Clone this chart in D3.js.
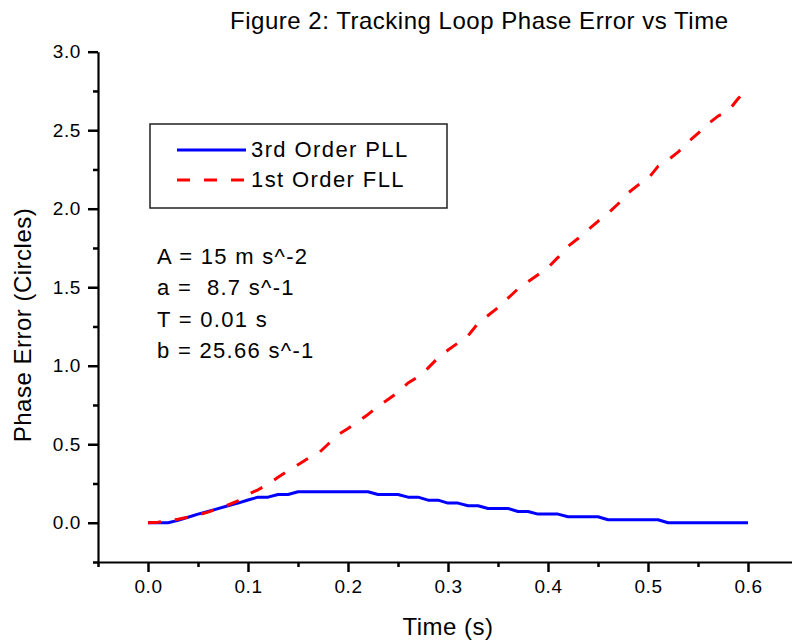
<!DOCTYPE html>
<html>
<head>
<meta charset="utf-8">
<script src="https://cdn.jsdelivr.net/npm/d3@7"></script>
<style>
  body { margin: 0; background: #fff; }
  text { font-family: Arial, "Liberation Sans", sans-serif; fill: #000; }
</style>
</head>
<body>
<div class="graph"></div>
<script>
// data (sample step 0.01 s)
var time = [0.00, 0.01, 0.02, 0.03, 0.04, 0.05, 0.06, 0.07, 0.08, 0.09,
            0.10, 0.11, 0.12, 0.13, 0.14, 0.15, 0.16, 0.17, 0.18, 0.19,
            0.20, 0.21, 0.22, 0.23, 0.24, 0.25, 0.26, 0.27, 0.28, 0.29,
            0.30, 0.31, 0.32, 0.33, 0.34, 0.35, 0.36, 0.37, 0.38, 0.39,
            0.40, 0.41, 0.42, 0.43, 0.44, 0.45, 0.46, 0.47, 0.48, 0.49,
            0.50, 0.51, 0.52, 0.53, 0.54, 0.55, 0.56, 0.57, 0.58, 0.59, 0.60];
var pll = [0, 0, 0, 0.015, 0.035, 0.055, 0.072, 0.09, 0.108, 0.125,
           0.145, 0.163, 0.163, 0.18, 0.18, 0.197, 0.197, 0.197, 0.197, 0.197,
           0.197, 0.197, 0.197, 0.18, 0.18, 0.18, 0.163, 0.163, 0.144, 0.144,
           0.125, 0.125, 0.108, 0.108, 0.091, 0.091, 0.091, 0.072, 0.072, 0.055,
           0.055, 0.055, 0.038, 0.038, 0.038, 0.038, 0.019, 0.019, 0.019, 0.019,
           0.019, 0.019, 0, 0, 0, 0, 0, 0, 0, 0, 0];
var fll = [0, 0.003, 0.012, 0.022, 0.035, 0.05, 0.068, 0.09, 0.113, 0.14,
           0.18, 0.21, 0.245, 0.29, 0.33, 0.37, 0.41, 0.44, 0.50, 0.56,
           0.60, 0.645, 0.69, 0.74, 0.785, 0.83, 0.89, 0.93, 0.985, 1.05,
           1.10, 1.145, 1.19, 1.27, 1.32, 1.37, 1.43, 1.49, 1.535, 1.58,
           1.625, 1.69, 1.76, 1.81, 1.865, 1.92, 1.97, 2.03, 2.10, 2.15,
           2.19, 2.27, 2.31, 2.36, 2.425, 2.48, 2.54, 2.59, 2.62, 2.70, 2.77];

var xTicks = [0.0, 0.1, 0.2, 0.3, 0.4, 0.5, 0.6];
var xMinor = [-0.05, 0.05, 0.15, 0.25, 0.35, 0.45, 0.55, 0.65];
var yTicks = [0.0, 0.5, 1.0, 1.5, 2.0, 2.5, 3.0];
var yMinor = [-0.25, 0.25, 0.75, 1.25, 1.75, 2.25, 2.75];

var title = "Figure 2: Tracking Loop Phase Error vs Time";
var seriesNames = ["3rd Order PLL", "1st Order FLL"];
var notes = ["A = 15 m s^-2", "a =  8.7 s^-1", "T = 0.01 s", "b = 25.66 s^-1"];

// size
var basewidth = 792;
var baseheight = 643;

var svg = d3.select('.graph')
    .append('svg')
    .attr('width', basewidth)
    .attr('height', baseheight)

var x = d3.scaleLinear().domain([-0.05, 0.65]).range([98, 798])
var y = d3.scaleLinear().domain([-0.25, 3.0]).range([562, 51.7])

// axes
var xAxis = svg.append('g')
    .attr('transform', 'translate(0,' + y(-0.25) + ')')
    .call(d3.axisBottom(x).tickValues(xTicks).tickSize(10).tickSizeOuter(0).tickPadding(8)
        .tickFormat(d3.format('.1f')))
xAxis.append('g')
    .call(d3.axisBottom(x).tickValues(xMinor).tickSize(5).tickSizeOuter(0).tickFormat(''))
    .select('.domain').remove()

var yAxis = svg.append('g')
    .attr('transform', 'translate(' + x(-0.05) + ',0)')
    .call(d3.axisLeft(y).tickValues(yTicks).tickSize(10).tickSizeOuter(0).tickPadding(7)
        .tickFormat(d3.format('.1f')))
yAxis.append('g')
    .call(d3.axisLeft(y).tickValues(yMinor).tickSize(5).tickSizeOuter(0).tickFormat(''))
    .select('.domain').remove()

svg.selectAll('.domain').attr('stroke', '#000').attr('stroke-width', 2.2)
svg.selectAll('.tick line').attr('stroke', '#000').attr('stroke-width', 2.5)
svg.selectAll('.tick text')
    .attr('font-size', null)
    .style('font-size', '19px')
    .style('letter-spacing', '0.6px')
    .attr('fill', '#000')

// lines
var line = d3.line()
    .x(function(d, i) { return x(time[i]) })
    .y(function(d) { return y(d) })

svg.append('path')
    .datum(pll)
    .attr('d', line)
    .attr('fill', 'none')
    .attr('stroke', '#0000ff')
    .attr('stroke-width', 3)
    .attr('stroke-linejoin', 'round')

svg.append('path')
    .datum(fll)
    .attr('d', line)
    .attr('fill', 'none')
    .attr('stroke', '#ff0000')
    .attr('stroke-width', 3)
    .attr('stroke-linejoin', 'round')
    .attr('stroke-dasharray', '13 14')

// title and axis titles
svg.append('text')
    .attr('x', 230)
    .attr('y', 29)
    .attr('textLength', 498)
    .attr('lengthAdjust', 'spacing')
    .style('font-size', '24px')
    .text(title)

svg.append('text')
    .attr('x', x(0.3))
    .attr('y', 635)
    .attr('text-anchor', 'middle')
    .style('font-size', '24px')
    .style('letter-spacing', '0.5px')
    .text('Time (s)')

svg.append('text')
    .attr('transform', 'translate(31,' + 325 + ') rotate(-90)')
    .attr('text-anchor', 'middle')
    .style('font-size', '24px')
    .style('letter-spacing', '0.5px')
    .text('Phase Error (Circles)')

// legend
var legend = svg.append('g')
legend.append('rect')
    .attr('x', 150)
    .attr('y', 124)
    .attr('width', 297)
    .attr('height', 84)
    .attr('fill', 'none')
    .attr('stroke', '#222')
    .attr('stroke-width', 1.5)

var colors = ['#0000ff', '#ff0000']
var dashes = [null, '13 14']
seriesNames.forEach(function(name, i) {
    var ly = 150 + i * 30
    legend.append('line')
        .attr('x1', 177).attr('x2', 246)
        .attr('y1', ly).attr('y2', ly)
        .attr('stroke', colors[i])
        .attr('stroke-width', 3)
        .attr('stroke-dasharray', dashes[i])
    legend.append('text')
        .attr('x', 251)
        .attr('y', ly + 7)
        .style('font-size', '22px')
        .style('letter-spacing', '1.4px')
        .text(name)
})

// parameter notes
var noteY = [264, 295, 327, 358]
svg.selectAll('.note')
    .data(notes)
    .enter()
    .append('text')
    .attr('class', 'note')
    .attr('x', 157)
    .attr('y', function(d, i) { return noteY[i] })
    .style('font-size', '22px')
    .style('letter-spacing', '1.3px')
    .style('white-space', 'pre')
    .text(function(d) { return d })
</script>
</body>
</html>
